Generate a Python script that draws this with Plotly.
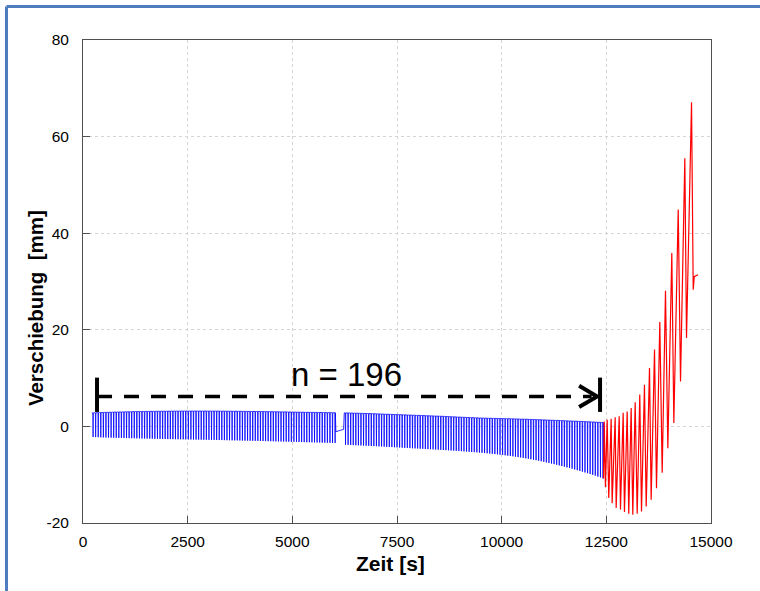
import plotly.graph_objects as go

# ---------------- data ----------------
cycle_period = 61.5          # s per load cycle (constant test frequency)
seg1_start = 210             # s, first blue cycle
seg2_start = 6240            # s, first blue cycle after the interruption

seg1_upper = [2.80, 2.82, 2.84, 2.86, 2.88, 2.90, 2.92, 2.93, 2.95, 2.96,
              2.98, 2.99, 3.00, 3.02, 3.03, 3.04, 3.05, 3.06, 3.07, 3.08,
              3.09, 3.10, 3.11, 3.11, 3.12, 3.13, 3.13, 3.14, 3.14, 3.15,
              3.15, 3.16, 3.16, 3.16, 3.17, 3.17, 3.17, 3.17, 3.18, 3.18,
              3.18, 3.18, 3.18, 3.18, 3.18, 3.17, 3.17, 3.17, 3.17, 3.16,
              3.16, 3.16, 3.15, 3.15, 3.14, 3.14, 3.13, 3.13, 3.12, 3.12,
              3.11, 3.10, 3.10, 3.09, 3.08, 3.08, 3.07, 3.06, 3.05, 3.05,
              3.04, 3.03, 3.02, 3.01, 3.00, 3.00, 2.99, 2.98, 2.97, 2.96,
              2.95, 2.94, 2.93, 2.92, 2.91, 2.90, 2.90, 2.89, 2.88, 2.87,
              2.86, 2.85, 2.85, 2.84, 2.83]
seg1_lower = [-2.20, -2.22, -2.24, -2.26, -2.28, -2.30, -2.31, -2.33, -2.34, -2.36,
              -2.37, -2.39, -2.40, -2.42, -2.43, -2.44, -2.46, -2.47, -2.48, -2.50,
              -2.51, -2.52, -2.53, -2.55, -2.56, -2.57, -2.58, -2.59, -2.60, -2.62,
              -2.63, -2.64, -2.65, -2.66, -2.67, -2.68, -2.69, -2.70, -2.71, -2.72,
              -2.73, -2.74, -2.75, -2.76, -2.77, -2.78, -2.79, -2.80, -2.81, -2.82,
              -2.83, -2.84, -2.86, -2.87, -2.88, -2.89, -2.90, -2.92, -2.93, -2.94,
              -2.95, -2.97, -2.98, -2.99, -3.00, -3.02, -3.03, -3.04, -3.06, -3.07,
              -3.08, -3.10, -3.11, -3.12, -3.14, -3.15, -3.17, -3.18, -3.19, -3.21,
              -3.22, -3.24, -3.25, -3.27, -3.28, -3.30, -3.31, -3.33, -3.34, -3.36,
              -3.37, -3.39, -3.40, -3.42, -3.43]

gap_time = [6040, 6225]
gap_value = [-1.1, -0.6]

seg2_upper = [2.80, 2.79, 2.77, 2.76, 2.74, 2.73, 2.71, 2.70, 2.68, 2.67,
              2.65, 2.63, 2.61, 2.59, 2.57, 2.55, 2.53, 2.51, 2.49, 2.47,
              2.45, 2.43, 2.41, 2.39, 2.37, 2.35, 2.33, 2.31, 2.29, 2.27,
              2.25, 2.23, 2.21, 2.19, 2.17, 2.15, 2.13, 2.11, 2.09, 2.06,
              2.04, 2.01, 1.99, 1.96, 1.94, 1.91, 1.89, 1.86, 1.84, 1.81,
              1.79, 1.77, 1.75, 1.73, 1.72, 1.70, 1.69, 1.67, 1.66, 1.64,
              1.63, 1.62, 1.60, 1.59, 1.58, 1.57, 1.55, 1.54, 1.52, 1.50,
              1.49, 1.47, 1.45, 1.43, 1.41, 1.39, 1.37, 1.35, 1.33, 1.31,
              1.29, 1.27, 1.25, 1.23, 1.20, 1.18, 1.16, 1.13, 1.11, 1.09,
              1.07, 1.04, 1.02, 1.00, 0.97, 0.95, 0.92, 0.90, 0.87, 0.84,
              0.82]
seg2_lower = [-3.80, -3.82, -3.85, -3.87, -3.90, -3.92, -3.95, -3.97, -4.00, -4.02,
              -4.05, -4.07, -4.10, -4.13, -4.16, -4.19, -4.22, -4.25, -4.28, -4.31,
              -4.34, -4.37, -4.40, -4.43, -4.46, -4.49, -4.52, -4.55, -4.58, -4.61,
              -4.64, -4.67, -4.70, -4.73, -4.76, -4.79, -4.82, -4.86, -4.89, -4.92,
              -4.95, -4.99, -5.02, -5.06, -5.09, -5.13, -5.17, -5.21, -5.25, -5.29,
              -5.33, -5.37, -5.42, -5.47, -5.52, -5.57, -5.62, -5.68, -5.73, -5.79,
              -5.85, -5.91, -5.98, -6.05, -6.12, -6.19, -6.27, -6.35, -6.43, -6.52,
              -6.61, -6.70, -6.80, -6.90, -7.00, -7.11, -7.22, -7.33, -7.45, -7.57,
              -7.69, -7.81, -7.94, -8.07, -8.20, -8.34, -8.48, -8.62, -8.76, -8.91,
              -9.06, -9.21, -9.37, -9.53, -9.69, -9.86, -10.03, -10.20, -10.38, -10.56,
              -10.75]

red_peak_time = [12450, 12520, 12615, 12711, 12807, 12902, 12998, 13093, 13189, 13299,
                 13411, 13531, 13651, 13777, 13913, 14064, 14217, 14375, 14535]
red_peak_value = [1.0, 1.4, 1.6, 1.9, 2.1, 2.8, 3.1, 3.8, 5.0, 6.6,
                  8.6, 12.1, 15.9, 21.6, 28.1, 35.9, 44.9, 55.5, 67.1]
red_trough_time = [12479, 12558, 12639, 12735, 12838, 12933, 13036, 13132, 13237, 13340,
                   13452, 13571, 13698, 13834, 13969, 14112, 14272, 14415, 14575]
red_trough_value = [-12.6, -14.8, -15.9, -16.9, -17.2, -17.7, -18.1, -18.3, -18.1, -17.6,
                    -16.6, -15.2, -12.8, -9.6, -4.5, 0.7, 9.3, 18.3, 28.3]
red_end_time = [14600, 14690]
red_end_value = [31.0, 31.4]

# cycle-count annotation
arrow_start = 335
arrow_end = 12300
arrow_level = 6.2
arrow_bar_low = 3.0
arrow_bar_high = 10.1
count_label = "n = 196"

x_ticks = [0, 2500, 5000, 7500, 10000, 12500, 15000]
y_ticks = [-20, 0, 20, 40, 60, 80]

# ---------------- build traces ----------------
# each cycle: load held near the upper value, short unloading spike to the lower value
def add_cycles(xs, ys, start, upper, lower):
    for i, (u, l) in enumerate(zip(upper, lower)):
        t = start + i * cycle_period
        xs += [t, t + 0.40 * cycle_period, t + 0.50 * cycle_period, t + 0.60 * cycle_period]
        ys += [u, u, l, u]

bx, by = [], []
add_cycles(bx, by, seg1_start, seg1_upper, seg1_lower)
bx += gap_time
by += gap_value
add_cycles(bx, by, seg2_start, seg2_upper, seg2_lower)
bx += [seg2_start + len(seg2_upper) * cycle_period - 0.3 * cycle_period]
by += [seg2_lower[-1]]

rx, ry = [bx[-1]], [by[-1]]
for pt, pv, tt, tv in zip(red_peak_time, red_peak_value, red_trough_time, red_trough_value):
    rx += [pt, tt]
    ry += [pv, tv]
rx += red_end_time
ry += red_end_value

fig = go.Figure()
fig.add_trace(go.Scatter(x=bx, y=by, mode="lines", line=dict(color="#0000ff", width=0.8),
                         hoverinfo="skip", showlegend=False))
fig.add_trace(go.Scatter(x=rx, y=ry, mode="lines", line=dict(color="#ff0000", width=1.2),
                         hoverinfo="skip", showlegend=False))

FONT = "Arial, Liberation Sans, sans-serif"
axis_common = dict(showgrid=True, gridcolor="#d4d4d4", griddash="dot", gridwidth=1,
                   showline=True, linecolor="#505050", linewidth=1, mirror=True,
                   ticks="inside", ticklen=7, tickcolor="#505050", zeroline=False,
                   tickfont=dict(family=FONT, size=15.5, color="black"))

fig.update_layout(
    width=760, height=591, autosize=False,
    margin=dict(l=83, r=49, t=40, b=68),
    paper_bgcolor="white", plot_bgcolor="white",
    xaxis=dict(range=[0, 15000], tickvals=x_ticks, ticktext=[str(v) for v in x_ticks],
               ticklabelstandoff=4, **axis_common),
    yaxis=dict(range=[-20, 80], tickvals=y_ticks, ticktext=[str(v) for v in y_ticks],
               ticklabelstandoff=10, **axis_common),
)

# axis titles
fig.add_annotation(text="<b>Zeit [s]</b>", xref="paper", yref="paper", x=0.489, y=-0.083,
                   showarrow=False, font=dict(family=FONT, size=21, color="black"),
                   xanchor="center", yanchor="middle")
fig.add_annotation(text="<b>Verschiebung\u00a0\u00a0[mm]</b>", xref="paper", yref="paper",
                   x=-0.0764, y=0.445, textangle=-90, showarrow=False,
                   font=dict(family=FONT, size=20.5, color="black"),
                   xanchor="center", yanchor="middle")

# cycle count arrow
dash_line = dict(color="black", width=3.5, dash="15px,12px")
solid = dict(color="black", width=4)
fig.add_shape(type="line", xref="x", yref="y", x0=arrow_start, x1=arrow_end - 150,
              y0=arrow_level, y1=arrow_level, line=dash_line)
fig.add_shape(type="line", xref="x", yref="y", x0=arrow_start, x1=arrow_start,
              y0=arrow_bar_low, y1=arrow_bar_high, line=solid)
fig.add_shape(type="line", xref="x", yref="y", x0=arrow_end + 50, x1=arrow_end + 50,
              y0=arrow_bar_low, y1=arrow_bar_high, line=solid)
fig.add_shape(type="path", xref="x", yref="y",
              path=f"M {arrow_end - 450},{arrow_level + 2.2} L {arrow_end - 20},{arrow_level} L {arrow_end - 450},{arrow_level - 2.2}",
              line=solid)
fig.add_annotation(text=count_label, xref="x", yref="y", x=6290, y=10.8, showarrow=False,
                   font=dict(family=FONT, size=33, color="black"),
                   xanchor="center", yanchor="middle")

# outer frame (blue border of the picture)
border = dict(color="#4f7bbf", width=3)
fig.add_shape(type="line", xref="paper", yref="paper", x0=-0.1218, x1=1.2, y0=1.0694, y1=1.0694,
              line=border)
fig.add_shape(type="line", xref="paper", yref="paper", x0=-0.1218, x1=-0.1218, y0=1.0694, y1=-0.2,
              line=border)

fig.write_html("out.html")
